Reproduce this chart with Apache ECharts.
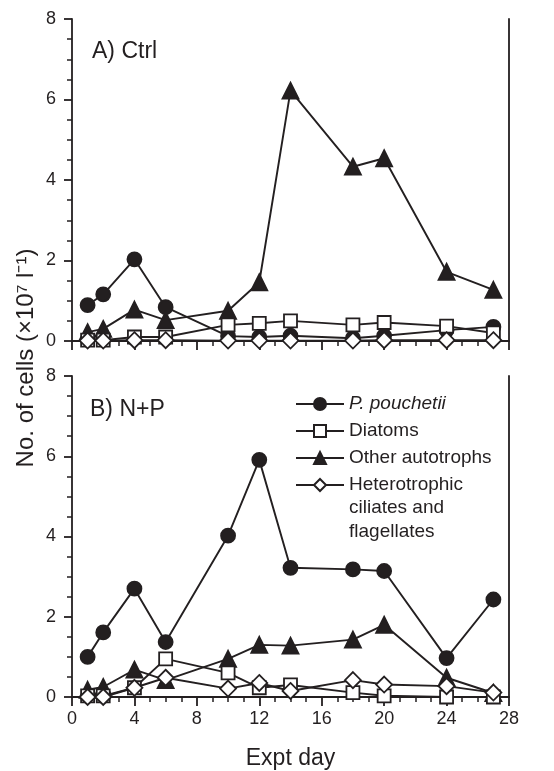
<!DOCTYPE html>
<html>
<head>
<meta charset="utf-8">
<script src="https://cdn.jsdelivr.net/npm/echarts@6/dist/echarts.min.js"></script>
<style>
  html, body { margin: 0; padding: 0; background: #fff; }
  #chart { width: 554px; height: 771px; }
</style>
</head>
<body>
<div id="chart"></div>
<script>
// sampling days
var days = [1, 2, 4, 6, 10, 12, 14, 18, 20, 24, 27];

// A) Ctrl, cells x10^7 per litre
var ctrlPouchetii = [0.89, 1.16, 2.03, 0.84, 0.12, 0.10, 0.13, 0.07, 0.13, 0.27, 0.35];
var ctrlDiatoms   = [0.02, 0.02, 0.10, 0.10, 0.40, 0.44, 0.50, 0.40, 0.46, 0.37, 0.20];
var ctrlOther     = [0.22, 0.30, 0.78, 0.52, 0.75, 1.46, 6.22, 4.33, 4.54, 1.72, 1.27];
var ctrlHetero    = [0.01, 0.01, 0.02, 0.02, 0.01, 0.01, 0.01, 0.01, 0.02, 0.02, 0.02];

// B) N+P
var npPouchetii = [1.00, 1.61, 2.70, 1.37, 4.02, 5.91, 3.22, 3.18, 3.14, 0.97, 2.43];
var npDiatoms   = [0.03, 0.03, 0.23, 0.95, 0.60, 0.23, 0.30, 0.11, 0.03, 0.00, 0.00];
var npOther     = [0.18, 0.25, 0.68, 0.42, 0.95, 1.30, 1.28, 1.43, 1.80, 0.48, 0.10];
var npHetero    = [0.00, 0.00, 0.23, 0.48, 0.21, 0.35, 0.15, 0.42, 0.31, 0.27, 0.11];

var names = ['P. pouchetii', 'Diatoms', 'Other autotrophs', 'Heterotrophic ciliates and flagellates'];
var panelLabels = ['A) Ctrl', 'B) N+P'];

var xMax = 28, xStep = 4;
var yMax = 8, yStep = 2;

var ink = '#231f20';
var font = '"Liberation Sans", Arial, Helvetica, sans-serif';

function pairs(vals) {
    return days.map(function (d, i) { return [d, vals[i]]; });
}

var markers = [
    { symbol: 'circle', size: 14, fill: ink, z: 2 },
    { symbol: 'rect', size: 13, fill: '#fff', z: 4 },
    { symbol: 'triangle', size: 16, fill: ink, z: 3 },
    { symbol: 'diamond', size: 16, fill: '#fff', z: 5 }
];

function makeSeries(idx, sets) {
    return sets.map(function (vals, k) {
        var m = markers[k];
        return {
            name: names[k],
            type: 'line',
            xAxisIndex: idx,
            yAxisIndex: idx * 2,
            data: pairs(vals),
            symbol: m.symbol,
            symbolSize: m.size,
            z: m.z,
            lineStyle: { color: ink, width: 1.9 },
            itemStyle: { color: m.fill, borderColor: ink, borderWidth: 1.8 },
            emphasis: { disabled: true },
            animation: false
        };
    });
}

function xAxis(idx, showLabels) {
    return {
        type: 'value', gridIndex: idx, min: 0, max: xMax, interval: xStep,
        axisLine: { onZero: false, lineStyle: { color: ink, width: 1.8 } },
        axisTick: { show: true, length: 9, lineStyle: { color: ink, width: 1.8 } },
        minorTick: { show: true, splitNumber: 4, length: 5, lineStyle: { color: ink, width: 1.5 } },
        splitLine: { show: false },
        axisLabel: { show: showLabels, margin: 13, color: ink, fontSize: 18, fontFamily: font },
        name: showLabels ? 'Expt day' : '',
        nameLocation: 'middle',
        nameGap: 50,
        nameTextStyle: { color: ink, fontSize: 23, fontFamily: font }
    };
}

function yAxes(idx) {
    return [{
        type: 'value', gridIndex: idx, min: 0, max: yMax, interval: yStep,
        axisLine: { show: true, lineStyle: { color: ink, width: 1.8 } },
        axisTick: { show: true, length: 8, lineStyle: { color: ink, width: 1.8 } },
        minorTick: { show: true, splitNumber: 4, length: 5, lineStyle: { color: ink, width: 1.5 } },
        splitLine: { show: false },
        axisLabel: { margin: 16, color: ink, fontSize: 18, fontFamily: font }
    }, {
        type: 'value', gridIndex: idx, min: 0, max: yMax, interval: yStep, position: 'right',
        axisLine: { show: true, lineStyle: { color: ink, width: 1.8 } },
        axisTick: { show: false }, axisLabel: { show: false }, splitLine: { show: false }
    }];
}

var chart = echarts.init(document.getElementById('chart'), null, { renderer: 'canvas' });

var option = {
    backgroundColor: '#fff',
    animation: false,
    textStyle: { fontFamily: font },
    grid: [
        { left: 72, right: 45, top: 19, height: 322 },
        { left: 72, right: 45, top: 376, height: 323 }
    ],
    xAxis: [xAxis(0, false), xAxis(1, true)],
    yAxis: yAxes(0).concat(yAxes(1)),
    legend: {
        data: names,
        orient: 'vertical',
        left: 290,
        top: 389,
        itemWidth: 48,
        itemHeight: 15,
        itemGap: 7,
        selectedMode: false,
        formatter: function (n) {
            if (n === names[0]) return '{i|' + n + '}';
            if (n === names[3]) return 'Heterotrophic';
            return n;
        },
        textStyle: {
            color: ink, fontSize: 19, lineHeight: 20, fontFamily: font, padding: [0, 0, 0, 0],
            rich: { i: { fontStyle: 'italic', fontSize: 19, fontFamily: font, color: ink } }
        }
    },
    graphic: [
        {
            type: 'text', left: 92, top: 40,
            style: { text: panelLabels[0], fill: ink, font: '23px ' + font }
        },
        {
            type: 'text', left: 90, top: 398,
            style: { text: panelLabels[1], fill: ink, font: '23px ' + font }
        },
        {
            type: 'text', left: 349, top: 496,
            style: { text: 'ciliates and\nflagellates', fill: ink, font: '19px ' + font, lineHeight: 24 }
        },
        {
            type: 'text', x: 26, y: 358, rotation: Math.PI / 2,
            style: {
                text: 'No. of cells (\u00d710\u2077 l\u207b\u00b9)',
                fill: ink, font: '24px ' + font, align: 'center', verticalAlign: 'middle'
            }
        }
    ],
    series: makeSeries(0, [ctrlPouchetii, ctrlDiatoms, ctrlOther, ctrlHetero])
        .concat(makeSeries(1, [npPouchetii, npDiatoms, npOther, npHetero]))
};

if (option && typeof option === 'object') {
    chart.setOption(option, true);
}
</script>
</body>
</html>
